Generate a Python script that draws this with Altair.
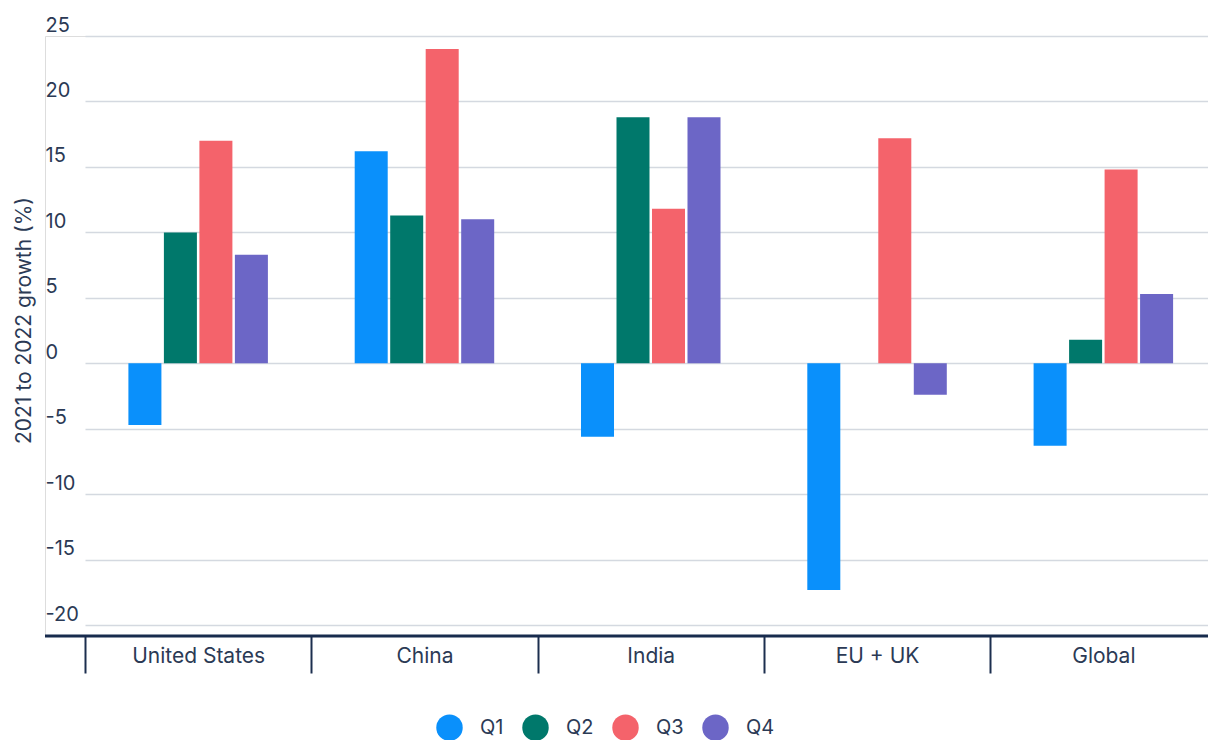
import altair as alt
import pandas as pd

regions = ["United States", "China", "India", "EU + UK", "Global"]
quarters = ["Q1", "Q2", "Q3", "Q4"]
q1 = [-4.7, 16.2, -5.6, -17.3, -6.3]
q2 = [10.0, 11.3, 18.8, 0.0, 1.8]
q3 = [17.0, 24.0, 11.8, 17.2, 14.8]
q4 = [8.3, 11.0, 18.8, -2.4, 5.3]
colors = ["#0a90fb", "#00786b", "#f4636b", "#6c66c6"]
y_ticks = [-20, -15, -10, -5, 0, 5, 10, 15, 20, 25]

rows = []
for qi, series in zip(quarters, [q1, q2, q3, q4]):
    for r, v in zip(regions, series):
        rows.append({"region": r, "quarter": qi, "value": v})
df = pd.DataFrame(rows)

FONT = "Inter"
TXT = "#2b3a55"
W, H = 1163, 600
YMIN, YMAX = -20.82, 25

bars = alt.Chart(df).mark_bar().encode(
    x=alt.X(
        "region:N",
        sort=regions,
        scale=alt.Scale(range=[40, 1171.5], paddingInner=0, paddingOuter=0),
        axis=alt.Axis(
            title=None,
            domain=False,
            grid=False,
            tickBand="extent",
            tickSize=37,
            tickWidth=2,
            tickColor="#1c2f4f",
            labelPadding=-28,
            labelBaseline="top",
            labelFont=FONT,
            labelFontSize=21,
            labelColor=TXT,
            labelAngle=0,
        ),
    ),
    xOffset=alt.XOffset(
        "quarter:N",
        sort=quarters,
        scale=alt.Scale(range=[43.4, 182.9], paddingInner=0.07, paddingOuter=0),
    ),
    y=alt.Y(
        "value:Q",
        scale=alt.Scale(domain=[YMIN, YMAX], nice=False, zero=False),
        axis=alt.Axis(
            title="2021 to 2022 growth (%)",
            titleFont=FONT,
            titleFontSize=21,
            titleFontWeight="normal",
            titleColor=TXT,
            titleAngle=-90,
            titleX=-21,
            titleY=284,
            titleAlign="center",
            titleBaseline="middle",
            values=y_ticks,
            labelExpr="toString(datum.value)",
            domain=False,
            ticks=False,
            tickSize=0,
            grid=True,
            gridColor="#d4d9e0",
            gridWidth=1.5,
            labelAlign="left",
            labelBaseline="alphabetic",
            labelPadding=0,
            labelOffset=-5,
            labelFont=FONT,
            labelFontSize=20,
            labelColor=TXT,
        ),
    ),
    color=alt.Color(
        "quarter:N",
        sort=quarters,
        scale=alt.Scale(domain=quarters, range=colors),
        legend=alt.Legend(
            title=None,
            orient="none",
            direction="horizontal",
            legendX=391,
            legendY=678,
            symbolType="circle",
            symbolSize=700,
            symbolStrokeWidth=0,
            labelFont=FONT,
            labelFontSize=20,
            labelColor=TXT,
            labelOffset=17,
            columnPadding=18,
            padding=0,
        ),
    ),
)

base_rule = alt.Chart(pd.DataFrame({"v": [YMIN]})).mark_rule(
    color="#172b4d", strokeWidth=3
).encode(
    y=alt.Y("v:Q"),
    x=alt.value(0),
    x2=alt.value(W),
)

chart = alt.layer(bars, base_rule).properties(
    width=W,
    height=H,
    autosize=alt.AutoSizeParams(type="none"),
    padding={"left": 45, "top": 36, "right": 0, "bottom": 104},
).configure_view(stroke=None).configure(background="white")

chart.save("out.html", embed_options={"renderer": "svg", "actions": False})
